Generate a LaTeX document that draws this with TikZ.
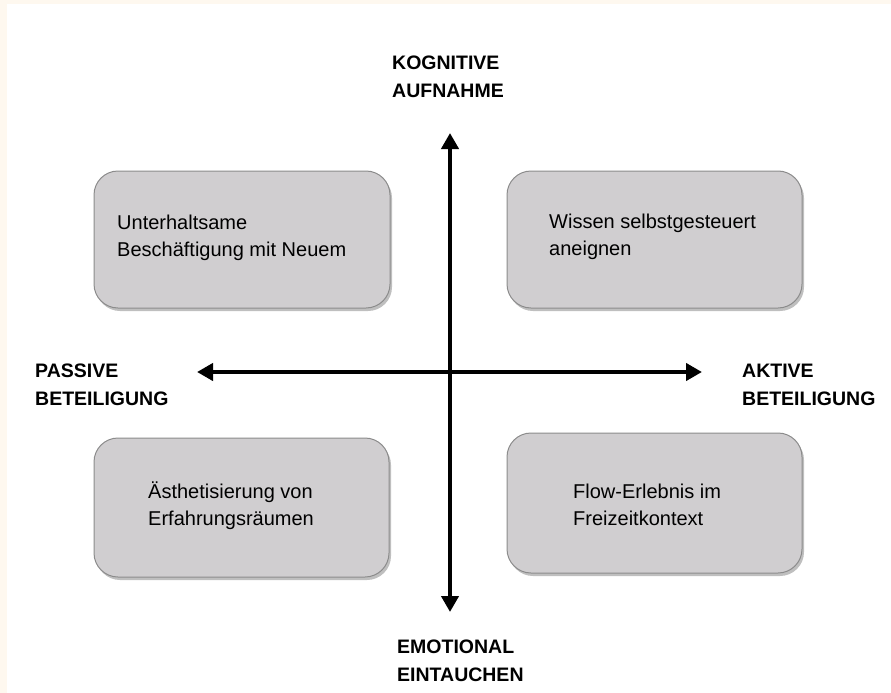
\documentclass[tikz,border=0pt]{standalone}
\usepackage{fontspec}
\setmainfont{Liberation Sans}
\usepackage{tikz}
\usetikzlibrary{arrows.meta,positioning,shadows}

\definecolor{cream}{RGB}{254,248,239}
\definecolor{boxgray}{RGB}{208,206,208}
\definecolor{rimgray}{RGB}{140,140,140}

\begin{document}
\begin{tikzpicture}[x=1pt,y=-1pt,
    quad/.style={draw=rimgray,line width=1pt,fill=boxgray,rounded corners=24pt,
       drop shadow={shadow xshift=2pt,shadow yshift=-3pt,opacity=0.5,fill=gray}},
    quadtext/.style={anchor=base west,align=left,inner sep=0pt,
       font=\fontsize{20}{27}\selectfont},
    axlabel/.style={anchor=base west,align=left,inner sep=0pt,
       font=\fontsize{19.5}{28}\selectfont\bfseries},
    axis/.style={line width=4.5pt,{Triangle[length=16pt,width=17pt]}-{Triangle[length=16pt,width=17pt]}}]
  % background
  \useasboundingbox (0,0) rectangle (891,693);
  \fill[cream] (0,0) rectangle (891,693);
  \fill[white] (7,4) rectangle (891,693);

  % quadrants
  \path[quad] (94,171) rectangle (390,308) coordinate (tlc);
  \path[quad] (507,171) rectangle (802,308) coordinate (trc);
  \path[quad] (94,438) rectangle (389,577) coordinate (blc);
  \path[quad] (507,433) rectangle (802,573) coordinate (brc);

  % texts (base = last line)
  \node[quadtext] (tl) at (117,256) {Unterhaltsame\\Beschäftigung mit Neuem};
  \node[quadtext] (tr) at (549,255) {Wissen selbstgesteuert\\aneignen};
  \node[quadtext] (bl) at (148,525) {Ästhetisierung von\\Erfahrungsräumen};
  \node[quadtext] (br) at (573,525) {Flow-Erlebnis im\\Freizeitkontext};

  % axes
  \coordinate (ntop) at (450,133);
  \coordinate (nbot) at (450,612);
  \coordinate (nleft) at (197,372);
  \coordinate (nright) at (702,372);
  \draw[axis] (nbot) -- (ntop);
  \draw[axis] (nleft) -- (nright);

  \node[axlabel] (kog) at (392,97) {KOGNITIVE\\AUFNAHME};
  \node[axlabel] (emo) at (397,681) {EMOTIONAL\\EINTAUCHEN};
  \node[axlabel] (pas) at (35,405) {PASSIVE\\BETEILIGUNG};
  \node[axlabel] (akt) at (742,405) {AKTIVE\\BETEILIGUNG};
\end{tikzpicture}
\end{document}
